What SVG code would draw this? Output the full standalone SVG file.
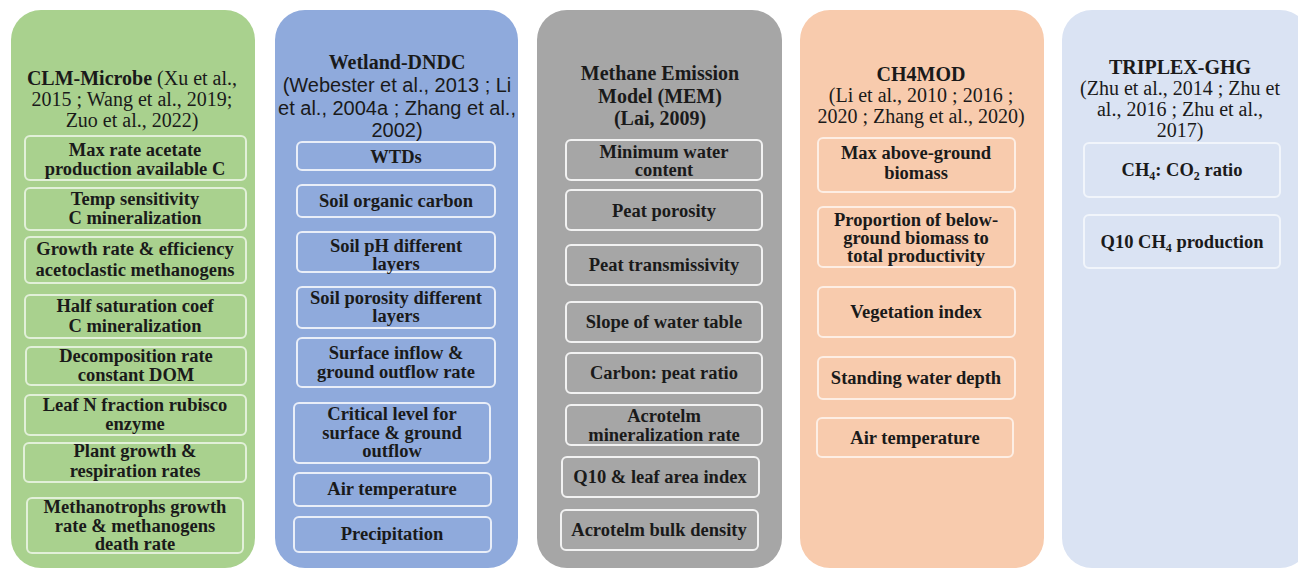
<svg xmlns="http://www.w3.org/2000/svg" width="1298" height="570" viewBox="0 0 1298 570">
<style>
.bg{fill:#ffffff}
.p1{fill:#a9d18e}.b1{fill:#a9d18e;stroke:#e2f0d9;stroke-width:2}
.p2{fill:#8faadc}.b2{fill:#8faadc;stroke:#e9eef8;stroke-width:2}
.p3{fill:#a6a6a6}.b3{fill:#a6a6a6;stroke:#f2f2f2;stroke-width:2}
.p4{fill:#f8cbad}.b4{fill:#f8cbad;stroke:#fdeee4;stroke-width:2}
.p5{fill:#dae3f3}.b5{fill:#dae3f3;stroke:#f1f5fb;stroke-width:2}
text{font-family:"Liberation Serif","Times New Roman",serif;fill:#1a1a1a;text-anchor:middle}
.h{font-size:20px}
.hb{font-weight:bold}
.s{font-family:"Liberation Sans",Arial,sans-serif;font-size:20px}
.t{font-size:18.5px;font-weight:bold}
.sub{font-size:12px}
</style>
<rect class="bg" x="0" y="0" width="1298" height="570"/>

<g id="col-clm">
<rect class="p1" x="11" y="10" width="244" height="558" rx="30"/>
<text class="h" x="132" y="85"><tspan class="hb">CLM-Microbe</tspan> (Xu et al.,</text>
<text class="h" x="132" y="106">2015 ; Wang et al., 2019;</text>
<text class="h" x="132" y="127">Zuo et al., 2022)</text>
</g>
<g id="clm-1"><rect class="b1" x="25" y="136" width="221" height="44" rx="5"/>
<text class="t" x="135" y="156">Max rate acetate</text><text class="t" x="135" y="175">production  available C</text></g>
<g id="clm-2"><rect class="b1" x="25" y="188" width="221" height="42" rx="5"/>
<text class="t" x="135" y="205">Temp sensitivity</text><text class="t" x="135" y="224">C mineralization</text></g>
<g id="clm-3"><rect class="b1" x="25" y="237" width="221" height="46" rx="5"/>
<text class="t" x="135" y="255">Growth rate &amp; efficiency</text><text class="t" x="135" y="276">acetoclastic methanogens</text></g>
<g id="clm-4"><rect class="b1" x="25" y="295" width="221" height="43" rx="5"/>
<text class="t" x="135" y="312">Half saturation coef</text><text class="t" x="135" y="332">C mineralization</text></g>
<g id="clm-5"><rect class="b1" x="26" y="347" width="220" height="38" rx="5"/>
<text class="t" x="136" y="362">Decomposition rate</text><text class="t" x="136" y="381">constant DOM</text></g>
<g id="clm-6"><rect class="b1" x="25" y="395" width="221" height="40" rx="5"/>
<text class="t" x="135" y="411">Leaf N fraction rubisco</text><text class="t" x="135" y="430">enzyme</text></g>
<g id="clm-7"><rect class="b1" x="24" y="443" width="222" height="39" rx="5"/>
<text class="t" x="135" y="457">Plant growth &amp;</text><text class="t" x="135" y="477">respiration  rates</text></g>
<g id="clm-8"><rect class="b1" x="27" y="498" width="216" height="55" rx="5"/>
<text class="t" x="135" y="513">Methanotrophs growth</text><text class="t" x="135" y="532">rate &amp; methanogens</text><text class="t" x="135" y="550">death rate</text></g>

<g id="col-dndc">
<rect class="p2" x="275" y="10" width="243" height="558" rx="30"/>
<text class="h hb" x="397" y="69">Wetland-DNDC</text>
<text class="s" x="397" y="92">(Webester et al., 2013 ; Li</text>
<text class="s" x="397" y="115">et al., 2004a ; Zhang et al.,</text>
<text class="s" x="397" y="137">2002)</text>
</g>
<g id="dndc-1"><rect class="b2" x="297" y="142" width="198" height="28" rx="5"/>
<text class="t" x="396" y="163">WTDs</text></g>
<g id="dndc-2"><rect class="b2" x="297" y="185" width="198" height="32" rx="5"/>
<text class="t" x="396" y="207">Soil organic carbon</text></g>
<g id="dndc-3"><rect class="b2" x="297" y="232" width="198" height="40" rx="5"/>
<text class="t" x="396" y="252">Soil pH different</text><text class="t" x="396" y="270">layers</text></g>
<g id="dndc-4"><rect class="b2" x="297" y="287" width="198" height="41" rx="5"/>
<text class="t" x="396" y="304">Soil porosity different</text><text class="t" x="396" y="322">layers</text></g>
<g id="dndc-5"><rect class="b2" x="297" y="338" width="198" height="49" rx="5"/>
<text class="t" x="396" y="359">Surface inflow &amp;</text><text class="t" x="396" y="378">ground  outflow rate</text></g>
<g id="dndc-6"><rect class="b2" x="294" y="403" width="196" height="60" rx="5"/>
<text class="t" x="392" y="420">Critical level for</text><text class="t" x="392" y="439">surface &amp; ground</text><text class="t" x="392" y="457">outflow</text></g>
<g id="dndc-7"><rect class="b2" x="294" y="473" width="197" height="33" rx="5"/>
<text class="t" x="392" y="495">Air temperature</text></g>
<g id="dndc-8"><rect class="b2" x="294" y="517" width="197" height="35" rx="5"/>
<text class="t" x="392" y="540">Precipitation</text></g>

<g id="col-mem">
<rect class="p3" x="537" y="10" width="245" height="558" rx="30"/>
<text class="h hb" x="660" y="80">Methane Emission</text>
<text class="h hb" x="660" y="103">Model (MEM)</text>
<text class="h hb" x="660" y="125">(Lai, 2009)</text>
</g>
<g id="mem-1"><rect class="b3" x="566" y="140" width="196" height="40" rx="5"/>
<text class="t" x="664" y="158">Minimum  water</text><text class="t" x="664" y="176">content</text></g>
<g id="mem-2"><rect class="b3" x="566" y="190" width="196" height="40" rx="5"/>
<text class="t" x="664" y="217">Peat porosity</text></g>
<g id="mem-3"><rect class="b3" x="566" y="245" width="196" height="40" rx="5"/>
<text class="t" x="664" y="271">Peat transmissivity</text></g>
<g id="mem-4"><rect class="b3" x="566" y="302" width="196" height="40" rx="5"/>
<text class="t" x="664" y="328">Slope of water table</text></g>
<g id="mem-5"><rect class="b3" x="566" y="353" width="196" height="40" rx="5"/>
<text class="t" x="664" y="379">Carbon: peat ratio</text></g>
<g id="mem-6"><rect class="b3" x="566" y="405" width="196" height="40" rx="5"/>
<text class="t" x="664" y="422">Acrotelm</text><text class="t" x="664" y="441">mineralization  rate</text></g>
<g id="mem-7"><rect class="b3" x="562" y="457" width="197" height="40" rx="5"/>
<text class="t" x="660" y="483">Q10 &amp; leaf area index</text></g>
<g id="mem-8"><rect class="b3" x="561" y="510" width="197" height="40" rx="5"/>
<text class="t" x="659" y="536">Acrotelm bulk density</text></g>

<g id="col-ch4mod">
<rect class="p4" x="800" y="10" width="244" height="558" rx="30"/>
<text class="h hb" x="921" y="81">CH4MOD</text>
<text class="h" x="921" y="102">(Li et al., 2010 ; 2016 ;</text>
<text class="h" x="921" y="123">2020 ; Zhang et al., 2020)</text>
</g>
<g id="ch4mod-1"><rect class="b4" x="818" y="138" width="197" height="54" rx="5"/>
<text class="t" x="916" y="159">Max above-ground</text><text class="t" x="916" y="179">biomass</text></g>
<g id="ch4mod-2"><rect class="b4" x="818" y="207" width="197" height="60" rx="5"/>
<text class="t" x="916" y="226">Proportion of below-</text><text class="t" x="916" y="244">ground biomass to</text><text class="t" x="916" y="262">total productivity</text></g>
<g id="ch4mod-3"><rect class="b4" x="818" y="287" width="197" height="50" rx="5"/>
<text class="t" x="916" y="318">Vegetation index</text></g>
<g id="ch4mod-4"><rect class="b4" x="818" y="357" width="197" height="42" rx="5"/>
<text class="t" x="916" y="384">Standing water depth</text></g>
<g id="ch4mod-5"><rect class="b4" x="817" y="418" width="196" height="39" rx="5"/>
<text class="t" x="915" y="444">Air temperature</text></g>

<g id="col-triplex">
<rect class="p5" x="1062" y="10" width="248" height="558" rx="30"/>
<text class="h hb" x="1180" y="74">TRIPLEX-GHG</text>
<text class="h" x="1180" y="95">(Zhu et al., 2014 ; Zhu et</text>
<text class="h" x="1180" y="116">al., 2016 ; Zhu et al.,</text>
<text class="h" x="1180" y="137">2017)</text>
</g>
<g id="triplex-1"><rect class="b5" x="1084" y="143" width="196" height="54" rx="5"/>
<text class="t" x="1182" y="176">CH<tspan class="sub" dy="4">4</tspan><tspan dy="-4">: CO</tspan><tspan class="sub" dy="4">2</tspan><tspan dy="-4"> ratio</tspan></text></g>
<g id="triplex-2"><rect class="b5" x="1084" y="215" width="196" height="53" rx="5"/>
<text class="t" x="1182" y="248">Q10 CH<tspan class="sub" dy="4">4</tspan><tspan dy="-4"> production</tspan></text></g>

<g id="connectors"></g>
</svg>
